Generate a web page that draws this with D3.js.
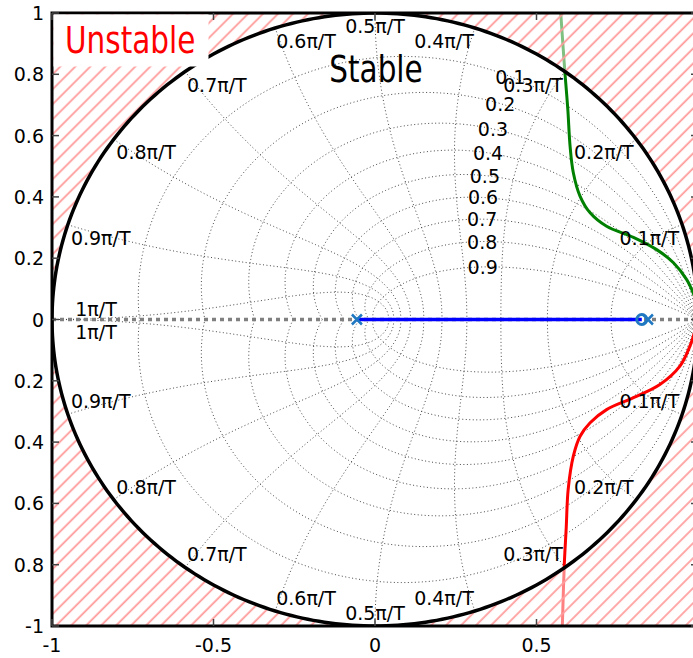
<!DOCTYPE html>
<html>
<head>
<meta charset="utf-8">
<script src="https://cdn.jsdelivr.net/npm/d3@7"></script>
<style>
  body { margin: 0; background: #fff; }
  text { font-family: "DejaVu Sans", sans-serif; }
</style>
</head>
<body>
<svg id="chart" width="693" height="658"></svg>
<script>
// axis ticks (the x=1 label falls outside the window)
const xTicks = [-1, -0.5, 0, 0.5, 1];
const xTickLabels = ["-1", "-0.5", "0", "0.5", ""];
const yTicks = [1, 0.8, 0.6, 0.4, 0.2, 0, -0.2, -0.4, -0.6, -0.8, -1];
const yTickLabels = ["1", "0.8", "0.6", "0.4", "0.2", "0", "0.2", "0.4", "0.6", "0.8", "-1"];

// zgrid: damping ratios and natural frequencies (multiples of pi/T)
const zetaVals = [0.1, 0.2, 0.3, 0.4, 0.5, 0.6, 0.7, 0.8, 0.9];
const wnVals = [0.1, 0.2, 0.3, 0.4, 0.5, 0.6, 0.7, 0.8, 0.9, 1];

// root locus branches
const upperBranch = [[0.575, 1.0], [0.588, 0.805], [0.597, 0.685], [0.604, 0.565], [0.614, 0.479],
  [0.635, 0.402], [0.666, 0.348], [0.717, 0.304], [0.80, 0.268], [0.872, 0.228], [0.924, 0.185],
  [0.965, 0.13], [0.985, 0.087], [1.0, 0.04]];
const lowerBranch = [[0.58, -1.0], [0.586, -0.80], [0.592, -0.68], [0.598, -0.555], [0.614, -0.446],
  [0.635, -0.381], [0.666, -0.337], [0.717, -0.294], [0.80, -0.255], [0.882, -0.212], [0.944, -0.152],
  [0.975, -0.087], [0.99, -0.04], [1.0, -0.01]];
const realBranch = [[-0.056, 0], [0.826, 0]];
const poles = [[-0.056, 0], [0.845, 0]];
const zeros = [[0.826, 0]];

const svg = d3.select("#chart");
const x = d3.scaleLinear().domain([-1, 1]).range([52, 698]);
const y = d3.scaleLinear().domain([-1, 1]).range([626, 13]);

const defs = svg.append("defs");
defs.append("clipPath").attr("id", "plot")
  .append("rect").attr("x", x(-1)).attr("y", y(1))
  .attr("width", x(1) - x(-1)).attr("height", y(-1) - y(1));
const pat = defs.append("pattern").attr("id", "hatch")
  .attr("patternUnits", "userSpaceOnUse")
  .attr("width", 10.6).attr("height", 10.6)
  .attr("patternTransform", "rotate(45)");
pat.append("line").attr("x1", 5).attr("y1", 0).attr("x2", 5).attr("y2", 10.6)
  .attr("stroke", "#ff9c9c").attr("stroke-width", 1.8);

const g = svg.append("g").attr("clip-path", "url(#plot)");
const line = d3.line().x(d => x(d[0])).y(d => y(d[1]));

// grid: constant damping spirals
zetaVals.forEach(z => {
  const wmax = Math.PI / Math.sqrt(1 - z * z);
  [1, -1].forEach(s => {
    const pts = d3.range(0, 201).map(i => {
      const w = wmax * i / 200;
      const r = Math.exp(-z * w), a = w * Math.sqrt(1 - z * z);
      return [r * Math.cos(a), s * r * Math.sin(a)];
    });
    g.append("path").attr("d", line(pts)).attr("fill", "none")
      .attr("stroke", "#333").attr("stroke-width", 0.9).attr("stroke-dasharray", "1,2.5");
  });
});
// grid: constant natural frequency curves
wnVals.forEach(k => {
  const w = k * Math.PI;
  [1, -1].forEach(s => {
    const pts = d3.range(0, 101).map(i => {
      const z = i / 100;
      const r = Math.exp(-z * w), a = w * Math.sqrt(1 - z * z);
      return [r * Math.cos(a), s * r * Math.sin(a)];
    });
    g.append("path").attr("d", line(pts)).attr("fill", "none")
      .attr("stroke", "#333").attr("stroke-width", 0.9).attr("stroke-dasharray", "1,2.5");
  });
});

// real axis
g.append("path").attr("d", line([[-1, 0], [1, 0]]))
  .attr("stroke", "#808080").attr("stroke-width", 3.5).attr("stroke-dasharray", "4,4");

// locus
const smooth = d3.line().x(d => x(d[0])).y(d => y(d[1])).curve(d3.curveCatmullRom);
g.append("path").attr("d", line(realBranch)).attr("stroke", "#0000ff").attr("stroke-width", 3.5);
g.append("path").attr("d", smooth(upperBranch)).attr("fill", "none").attr("stroke", "#008000").attr("stroke-width", 3);
g.append("path").attr("d", smooth(lowerBranch)).attr("fill", "none").attr("stroke", "#ff0000").attr("stroke-width", 3);

// markers
const mk = "#1f78c1";
g.selectAll(".zero").data(zeros).enter().append("circle")
  .attr("cx", d => x(d[0])).attr("cy", d => y(d[1])).attr("r", 5)
  .attr("fill", "none").attr("stroke", mk).attr("stroke-width", 3);
g.selectAll(".pole").data(poles).enter().append("path")
  .attr("d", d => {
    const cx = x(d[0]), cy = y(d[1]), h = 5;
    return `M${cx - h},${cy - h}L${cx + h},${cy + h}M${cx - h},${cy + h}L${cx + h},${cy - h}`;
  })
  .attr("stroke", mk).attr("stroke-width", 2.5);

// unstable region: outside the unit circle
const circlePts = d3.range(0, 361).map(i => [Math.cos(i * Math.PI / 180), Math.sin(i * Math.PI / 180)]);
const outside = `M${x(-1)},${y(1)}H${x(1)}V${y(-1)}H${x(-1)}Z` + line(circlePts) + "Z";
g.append("path").attr("d", outside).attr("fill-rule", "evenodd").attr("fill", "#fff").attr("fill-opacity", 0.5);
g.append("path").attr("d", outside).attr("fill-rule", "evenodd").attr("fill", "url(#hatch)");
g.append("path").attr("d", line(circlePts) + "Z").attr("fill", "none")
  .attr("stroke", "#000").attr("stroke-width", 3.5);

// frame and ticks
svg.append("rect").attr("x", x(-1)).attr("y", y(1))
  .attr("width", x(1) - x(-1)).attr("height", y(-1) - y(1))
  .attr("fill", "none").attr("stroke", "#000").attr("stroke-width", 3);
const tl = 7;
xTicks.forEach(t => {
  svg.append("line").attr("x1", x(t)).attr("x2", x(t)).attr("y1", y(-1)).attr("y2", y(-1) - tl)
    .attr("stroke", "#444").attr("stroke-width", 1.5);
  svg.append("line").attr("x1", x(t)).attr("x2", x(t)).attr("y1", y(1)).attr("y2", y(1) + tl)
    .attr("stroke", "#444").attr("stroke-width", 1.5);
});
yTicks.forEach(t => {
  svg.append("line").attr("x1", x(-1)).attr("x2", x(-1) + tl).attr("y1", y(t)).attr("y2", y(t))
    .attr("stroke", "#444").attr("stroke-width", 1.5);
  svg.append("line").attr("x1", x(1)).attr("x2", x(1) - tl).attr("y1", y(t)).attr("y2", y(t))
    .attr("stroke", "#444").attr("stroke-width", 1.5);
});
svg.selectAll(".xl").data(xTicks).enter().append("text")
  .attr("x", d => x(d)).attr("y", 652).attr("text-anchor", "middle")
  .attr("font-size", 19).text((d, i) => xTickLabels[i]);
svg.selectAll(".yl").data(yTicks).enter().append("text")
  .attr("x", 44).attr("y", d => y(d) + 7).attr("text-anchor", "end")
  .attr("font-size", 19).text((d, i) => yTickLabels[i]);

// grid labels: natural frequency
wnVals.forEach(k => {
  const a = k * Math.PI, c = Math.cos(a), s = Math.sin(a);
  const anchor = c > 0.05 ? "end" : c < -0.05 ? "start" : "middle";
  const flat = Math.abs(s) < 0.01;
  [1, -1].forEach(sg => {
    const px = x(c * 0.99) + (flat ? 20 : 0);
    let py = y(sg * s);
    if (flat) py += sg > 0 ? -4 : 19;
    else py += sg > 0 ? 20 : -6;
    svg.append("text").attr("x", px).attr("y", py).attr("text-anchor", anchor)
      .attr("font-size", 19).text(`${k === 1 ? "1" : k}π/T`);
  });
});
// grid labels: damping
zetaVals.forEach(z => {
  const w = 1.09, r = Math.exp(-z * w), a = w * Math.sqrt(1 - z * z);
  svg.append("text").attr("x", x(r * Math.cos(a))).attr("y", y(r * Math.sin(a)) + 7)
    .attr("text-anchor", "middle").attr("font-size", 19).text(z);
});

// region labels
svg.append("rect").attr("x", x(-1) + 1.5).attr("y", y(1) + 1.5).attr("width", 155).attr("height", 52).attr("fill", "#fff");
svg.append("text").attr("transform", "translate(65,53) scale(1,1.28)")
  .attr("font-family", "Liberation Sans, Arial, sans-serif").attr("font-size", 29.5)
  .attr("fill", "#ff0000").text("Unstable");
svg.append("text").attr("transform", "translate(376,82) scale(1,1.28)")
  .attr("font-family", "Liberation Sans, Arial, sans-serif").attr("font-size", 29.5)
  .attr("text-anchor", "middle").attr("fill", "#000").text("Stable");
</script>
</body>
</html>
